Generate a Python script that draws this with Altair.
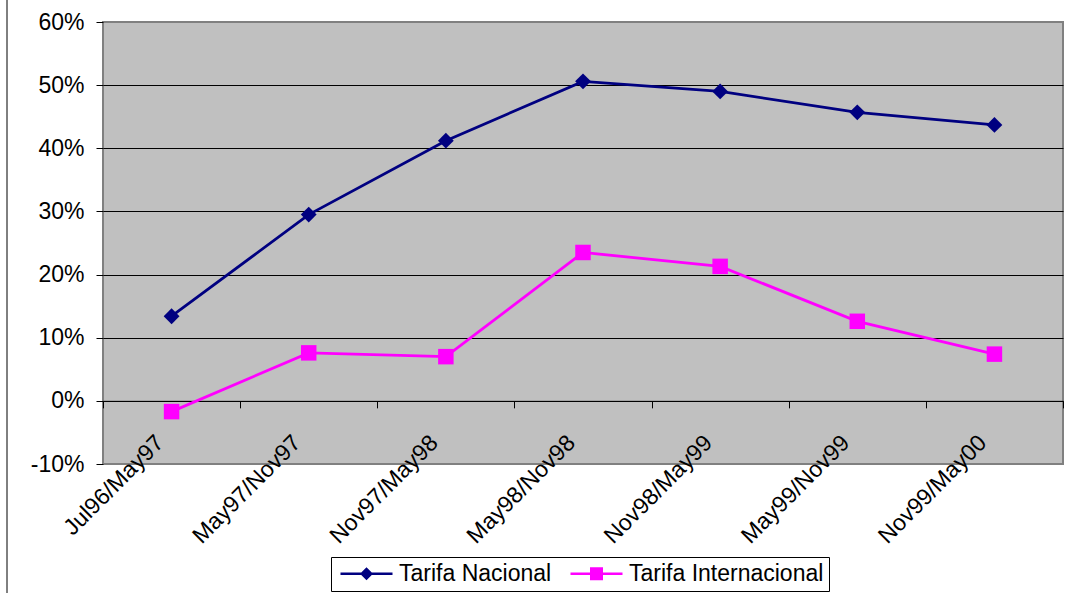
import altair as alt
import pandas as pd

periodos = ["Jul96/May97", "May97/Nov97", "Nov97/May98", "May98/Nov98",
            "Nov98/May99", "May99/Nov99", "Nov99/May00"]
tarifa_nacional = [0.134, 0.295, 0.412, 0.506, 0.490, 0.457, 0.437]
tarifa_internacional = [-0.017, 0.076, 0.070, 0.235, 0.213, 0.126, 0.074]
series = ["Tarifa Nacional", "Tarifa Internacional"]
colores = ["#000080", "#FF00FF"]
y_ticks = [-0.1, 0.0, 0.1, 0.2, 0.3, 0.4, 0.5, 0.6]

rows = []
for p, v in zip(periodos, tarifa_nacional):
    rows.append({"periodo": p, "valor": v, "serie": series[0]})
for p, v in zip(periodos, tarifa_internacional):
    rows.append({"periodo": p, "valor": v, "serie": series[1]})
df = pd.DataFrame(rows)

FONT = "Liberation Sans"
FS = 23
H = 442
zero_offset = -(H * 0.1 / 0.7)

x_enc = alt.X(
    "periodo:N", sort=periodos,
    scale=alt.Scale(type="band", paddingInner=0, paddingOuter=0),
    axis=alt.Axis(title=None, offset=zero_offset, labelAngle=-45, labelAlign="right",
                  labelBaseline="middle", labelPadding=31, labelOffset=-12,
                  tickBand="extent", tickSize=7,
                  tickColor="black", domainColor="black", domainWidth=1, grid=False,
                  labelFont=FONT, labelFontSize=FS, labelColor="black", labelOverlap=False,
                  labelLimit=400),
)
y_enc = alt.Y(
    "valor:Q", scale=alt.Scale(domain=[-0.1, 0.6], nice=False, zero=False),
    axis=alt.Axis(title=None, values=y_ticks, labelExpr="round(datum.value*100) + '%'",
                  grid=True,
                  gridColor={"condition": {"test": "datum.value < -0.05 || datum.value > 0.55",
                                           "value": "#808080"}, "value": "black"},
                  gridWidth=1, tickSize=7, tickColor="black", domain=False, labelPadding=12,
                  labelFont=FONT, labelFontSize=FS, labelColor="black"),
)

base = alt.Chart(df)
layers = []
shapes_plot = ["diamond", "square"]
sizes_plot = [250, 240]
for s, c, sh, sz in zip(series, colores, shapes_plot, sizes_plot):
    f = base.transform_filter(alt.datum.serie == s)
    layers.append(f.mark_line(color=c, strokeWidth=2.8).encode(x=x_enc, y=y_enc))
    layers.append(f.mark_point(shape=sh, filled=True, size=sz, color=c, opacity=1)
                  .encode(x=x_enc, y=y_enc))

legend_paths = [
    "M-4,-0.2H4V0.2H-4ZM-1,0L0,-1L1,0L0,1Z",
    "M-4,-0.2H4V0.2H-4ZM-1,-1H1V1H-1Z",
]
leg = alt.Legend(title=None, orient="none", legendX=228, legendY=535, direction="horizontal",
                 symbolSize=169, symbolOffset=19, labelOffset=21, columnPadding=14,
                 labelFont=FONT, labelFontSize=FS, labelColor="black", labelLimit=400,
                 strokeColor="black", fillColor="white", padding=5)
legend_layer = base.transform_filter("false").mark_point(filled=True, opacity=1).encode(
    color=alt.Color("serie:N", scale=alt.Scale(domain=series, range=colores), legend=leg),
    shape=alt.Shape("serie:N", scale=alt.Scale(domain=series, range=legend_paths), legend=leg),
)
layers.append(legend_layer)

border = alt.Chart(alt.Data(values=[{}])).mark_rule(color="black", strokeWidth=1).encode(
    x=alt.value(-96), y=alt.value(-22), y2=alt.value(571))
layers.append(border)

chart = alt.layer(*layers).properties(
    width=960, height=H,
    autosize=alt.AutoSizeParams(type="none"),
    padding={"left": 103, "top": 22, "right": 6, "bottom": 129},
    background="white",
    view=alt.ViewBackground(fill="#C0C0C0", stroke="#808080", strokeWidth=2),
).configure_view(fill="#C0C0C0", stroke="#808080", strokeWidth=2)

chart.save("out.html", embed_options={"renderer": "svg", "actions": False})
